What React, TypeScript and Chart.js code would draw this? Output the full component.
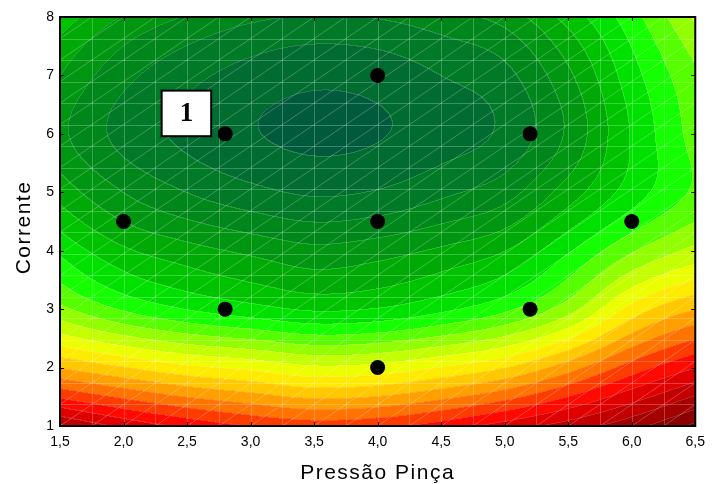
import React, { useEffect, useRef } from "react";
import { Chart, registerables } from "chart.js";

Chart.register(...registerables);

// ---- axis ticks ----
const xTickValues = [1.5, 2.0, 2.5, 3.0, 3.5, 4.0, 4.5, 5.0, 5.5, 6.0, 6.5];
const xTickLabels = ["1,5", "2,0", "2,5", "3,0", "3,5", "4,0", "4,5", "5,0", "5,5", "6,0", "6,5"];
const yTickValues = [1, 2, 3, 4, 5, 6, 7, 8];
const yTickLabels = ["1", "2", "3", "4", "5", "6", "7", "8"];

// ---- experimental design points ----
const pointX = [2.0, 2.8, 2.8, 4.0, 4.0, 4.0, 5.2, 5.2, 6.0];
const pointY = [4.5, 3.0, 6.0, 2.0, 4.5, 7.0, 3.0, 6.0, 4.5];

// ---- response surface, contour level read at grid nodes ----
const gridX = [1.5, 2.0, 2.5, 3.0, 3.5, 4.0, 4.5, 5.0, 5.5, 6.0, 6.5];
const gridY = [8, 7, 6, 5, 4, 3, 2, 1];
const levelAtY8 = [6.6, 4.9, 3.9, 3.2, 2.9, 3.05, 3.6, 4.4, 6.4, 8.6, 11.2];
const levelAtY7 = [5.0, 3.3, 2.3, 1.6, 1.24, 1.4, 2.0, 2.7, 4.8, 7.6, 9.8];
const levelAtY6 = [4.25, 2.65, 1.75, 1.08, 0.76, 0.93, 1.52, 2.23, 4.2, 7.1, 9.4];
const levelAtY5 = [5.6, 4.0, 3.0, 2.3, 1.88, 2.1, 2.8, 3.6, 5.5, 7.5, 9.2];
const levelAtY4 = [7.8, 6.2, 5.4, 4.8, 4.3, 4.6, 5.2, 6.0, 7.9, 9.9, 11.3];
const levelAtY3 = [10.3, 8.9, 8.0, 7.4, 6.9, 7.1, 7.8, 8.8, 10.6, 13.4, 15.0];
const levelAtY2 = [15.0, 14.1, 13.3, 12.8, 12.2, 12.4, 13.1, 14.0, 15.6, 17.5, 19.0];
const levelAtY1 = [21.2, 19.8, 18.8, 18.0, 17.6, 17.8, 18.5, 19.5, 20.5, 21.7, 23.3];

// ---- contour band colours (level 0 = lowest) ----
const bandColors = [
  "#005a3c", "#006c30", "#007a26", "#00871c", "#009612", "#00aa06",
  "#00c300", "#00e100", "#14ff00", "#55ff00", "#91ff00", "#c3ff00",
  "#ebff00", "#ffeb00", "#ffc800", "#ffa000", "#ff7300", "#ff3c00",
  "#ff0a00", "#e10000", "#c30000", "#a50000", "#8c0000", "#730000", "#640000",
];

// ---- annotation ----
const labelText = "1";
const labelBox = { x0: 2.3, x1: 2.69, y0: 5.96, y1: 6.74 };

const xTitle = "Pressão Pinça";
const yTitle = "Corrente";

const levelRows = [levelAtY8, levelAtY7, levelAtY6, levelAtY5, levelAtY4, levelAtY3, levelAtY2, levelAtY1];

function cr(p0: number, p1: number, p2: number, p3: number, t: number) {
  return 0.5 * (2 * p1 + (-p0 + p2) * t + (2 * p0 - 5 * p1 + 4 * p2 - p3) * t * t + (-p0 + 3 * p1 - 3 * p2 + p3) * t * t * t);
}
function sample(arr: number[], k: number) {
  const n = arr.length;
  if (k < 0) return 3 * arr[0] - 3 * arr[1] + arr[2];
  if (k >= n) return 3 * arr[n - 1] - 3 * arr[n - 2] + arr[n - 3];
  return arr[k];
}
function rowInterp(row: number[], u: number) {
  const n = row.length;
  let i = Math.floor(u);
  if (i < 0) i = 0;
  if (i > n - 2) i = n - 2;
  const t = u - i;
  return cr(sample(row, i - 1), sample(row, i), sample(row, i + 1), sample(row, i + 2), t);
}
function levelAt(x: number, y: number) {
  const u = ((x - gridX[0]) / (gridX[gridX.length - 1] - gridX[0])) * (gridX.length - 1);
  const v = ((gridY[0] - y) / (gridY[0] - gridY[gridY.length - 1])) * (gridY.length - 1);
  const col = levelRows.map((r) => rowInterp(r, u));
  return rowInterp(col, v);
}
function hexToRgb(h: string) {
  return [parseInt(h.slice(1, 3), 16), parseInt(h.slice(3, 5), 16), parseInt(h.slice(5, 7), 16)];
}

const surfacePlugin = {
  id: "surface",
  beforeDatasetsDraw(chart: any) {
    const { ctx, chartArea, scales } = chart;
    const xs = scales.x;
    const ys = scales.y;
    const L = Math.round(chartArea.left);
    const T = Math.round(chartArea.top);
    const W = Math.round(chartArea.right) - L;
    const H = Math.round(chartArea.bottom) - T;
    const rgb = bandColors.map(hexToRgb);
    const off = document.createElement("canvas");
    off.width = W;
    off.height = H;
    const octx = off.getContext("2d")!;
    const img = octx.createImageData(W, H);
    const xv: number[] = [];
    for (let i = 0; i < W; i++) xv.push(xs.getValueForPixel(L + i + 0.5));
    const bands = new Int16Array(W * H);
    for (let j = 0; j < H; j++) {
      const yv = ys.getValueForPixel(T + j + 0.5);
      for (let i = 0; i < W; i++) {
        let b = Math.floor(levelAt(xv[i], yv));
        if (b < 0) b = 0;
        if (b > rgb.length - 1) b = rgb.length - 1;
        bands[j * W + i] = b;
      }
    }
    for (let j = 0; j < H; j++) {
      for (let i = 0; i < W; i++) {
        const b = bands[j * W + i];
        const c = rgb[b];
        const edge = (i > 0 && bands[j * W + i - 1] !== b) || (j > 0 && bands[(j - 1) * W + i] !== b);
        const k = edge ? 0.16 : 0;
        const o = (j * W + i) * 4;
        img.data[o] = c[0] + (255 - c[0]) * k;
        img.data[o + 1] = c[1] + (255 - c[1]) * k;
        img.data[o + 2] = c[2] + (255 - c[2]) * k;
        img.data[o + 3] = 255;
      }
    }
    octx.putImageData(img, 0, 0);
    ctx.save();
    ctx.drawImage(off, L, T);
    // light mesh
    ctx.beginPath();
    ctx.rect(chartArea.left, chartArea.top, chartArea.right - chartArea.left, chartArea.bottom - chartArea.top);
    ctx.clip();
    ctx.strokeStyle = "rgba(255,255,255,0.24)";
    ctx.lineWidth = 1;
    const nx = 20;
    const ny = 19;
    const xmin = xs.min, xmax = xs.max, ymin = ys.min, ymax = ys.max;
    ctx.beginPath();
    for (let k = 1; k < nx; k++) {
      const p = Math.round(xs.getPixelForValue(xmin + ((xmax - xmin) * k) / nx)) + 0.5;
      ctx.moveTo(p, chartArea.top);
      ctx.lineTo(p, chartArea.bottom);
    }
    for (let k = 1; k < ny; k++) {
      const p = Math.round(ys.getPixelForValue(ymin + ((ymax - ymin) * k) / ny)) + 0.5;
      ctx.moveTo(chartArea.left, p);
      ctx.lineTo(chartArea.right, p);
    }
    for (let k = -ny; k < nx; k++) {
      const x0 = xmin + ((xmax - xmin) * k) / nx;
      const x1 = xmin + ((xmax - xmin) * (k + ny)) / nx;
      ctx.moveTo(xs.getPixelForValue(x0), ys.getPixelForValue(ymin));
      ctx.lineTo(xs.getPixelForValue(x1), ys.getPixelForValue(ymax));
    }
    ctx.stroke();
    ctx.restore();
  },
  afterDraw(chart: any) {
    const { ctx, chartArea, scales } = chart;
    const xs = scales.x;
    const ys = scales.y;
    ctx.save();
    // frame
    ctx.strokeStyle = "#000";
    ctx.lineWidth = 2;
    ctx.strokeRect(chartArea.left, chartArea.top, chartArea.right - chartArea.left, chartArea.bottom - chartArea.top);
    // inner ticks
    ctx.lineWidth = 1;
    ctx.beginPath();
    xTickValues.forEach((v) => {
      const p = Math.round(xs.getPixelForValue(v)) + 0.5;
      ctx.moveTo(p, chartArea.bottom);
      ctx.lineTo(p, chartArea.bottom - 4);
      ctx.moveTo(p, chartArea.top);
      ctx.lineTo(p, chartArea.top + 4);
    });
    yTickValues.forEach((v) => {
      const p = Math.round(ys.getPixelForValue(v)) + 0.5;
      ctx.moveTo(chartArea.left, p);
      ctx.lineTo(chartArea.left + 4, p);
      ctx.moveTo(chartArea.right, p);
      ctx.lineTo(chartArea.right - 4, p);
    });
    ctx.stroke();
    // label box
    const bx0 = xs.getPixelForValue(labelBox.x0);
    const bx1 = xs.getPixelForValue(labelBox.x1);
    const by0 = ys.getPixelForValue(labelBox.y1);
    const by1 = ys.getPixelForValue(labelBox.y0);
    ctx.fillStyle = "#fff";
    ctx.fillRect(bx0, by0, bx1 - bx0, by1 - by0);
    ctx.lineWidth = 2;
    ctx.strokeStyle = "#000";
    ctx.strokeRect(bx0, by0, bx1 - bx0, by1 - by0);
    ctx.fillStyle = "#000";
    ctx.font = "bold 27px 'Liberation Serif', 'DejaVu Serif', serif";
    ctx.textAlign = "center";
    ctx.textBaseline = "middle";
    ctx.fillText(labelText, (bx0 + bx1) / 2, (by0 + by1) / 2 + 1);
    // axis titles
    ctx.font = "21px 'Liberation Sans', Arial, sans-serif";
    (ctx as any).letterSpacing = "1.5px";
    ctx.textAlign = "center";
    ctx.textBaseline = "alphabetic";
    ctx.fillText(xTitle, (chartArea.left + chartArea.right) / 2, 479);
    ctx.translate(30, (chartArea.top + chartArea.bottom) / 2 + 6);
    ctx.rotate(-Math.PI / 2);
    ctx.fillText(yTitle, 0, 0);
    ctx.restore();
  },
};

export default function App() {
  const ref = useRef<HTMLCanvasElement | null>(null);
  useEffect(() => {
    if (!ref.current) return;
    const points = pointX.map((x, i) => ({ x, y: pointY[i] }));
    const chart = new Chart(ref.current, {
      type: "scatter",
      data: {
        datasets: [
          {
            data: points,
            backgroundColor: "#000",
            borderColor: "#000",
            borderWidth: 0,
            pointRadius: 7.5,
            pointHoverRadius: 7.5,
          },
        ],
      },
      options: {
        animation: false,
        responsive: false,
        maintainAspectRatio: false,
        events: [],
        layout: { padding: { top: 17, right: 13, left: 0, bottom: 0 } },
        plugins: { legend: { display: false }, tooltip: { enabled: false } },
        scales: {
          x: {
            type: "linear",
            min: 1.5,
            max: 6.5,
            afterBuildTicks: (s: any) => {
              s.ticks = xTickValues.map((v) => ({ value: v }));
            },
            afterFit: (s: any) => {
              s.height = 58;
            },
            grid: { display: false, drawTicks: false },
            border: { display: false },
            ticks: {
              autoSkip: false,
              maxRotation: 0,
              padding: 8,
              color: "#000",
              font: { family: "'Liberation Sans', Arial, sans-serif", size: 14 },
              callback: (v: any) => {
                const i = xTickValues.findIndex((t) => Math.abs(t - Number(v)) < 1e-6);
                return i >= 0 ? xTickLabels[i] : "";
              },
            },
          },
          y: {
            type: "linear",
            min: 1,
            max: 8,
            afterBuildTicks: (s: any) => {
              s.ticks = yTickValues.map((v) => ({ value: v }));
            },
            afterFit: (s: any) => {
              s.width = 60;
            },
            grid: { display: false, drawTicks: false },
            border: { display: false },
            ticks: {
              autoSkip: false,
              padding: 6,
              color: "#000",
              font: { family: "'Liberation Sans', Arial, sans-serif", size: 14 },
              callback: (v: any) => {
                const i = yTickValues.findIndex((t) => Math.abs(t - Number(v)) < 1e-6);
                return i >= 0 ? yTickLabels[i] : "";
              },
            },
          },
        },
      },
      plugins: [surfacePlugin],
    });
    return () => chart.destroy();
  }, []);
  return (
    <div style={{ position: "fixed", left: 0, top: 0, width: 713, height: 484, background: "#fff" }}>
      <canvas ref={ref} width={713} height={484} style={{ display: "block" }} />
    </div>
  );
}
